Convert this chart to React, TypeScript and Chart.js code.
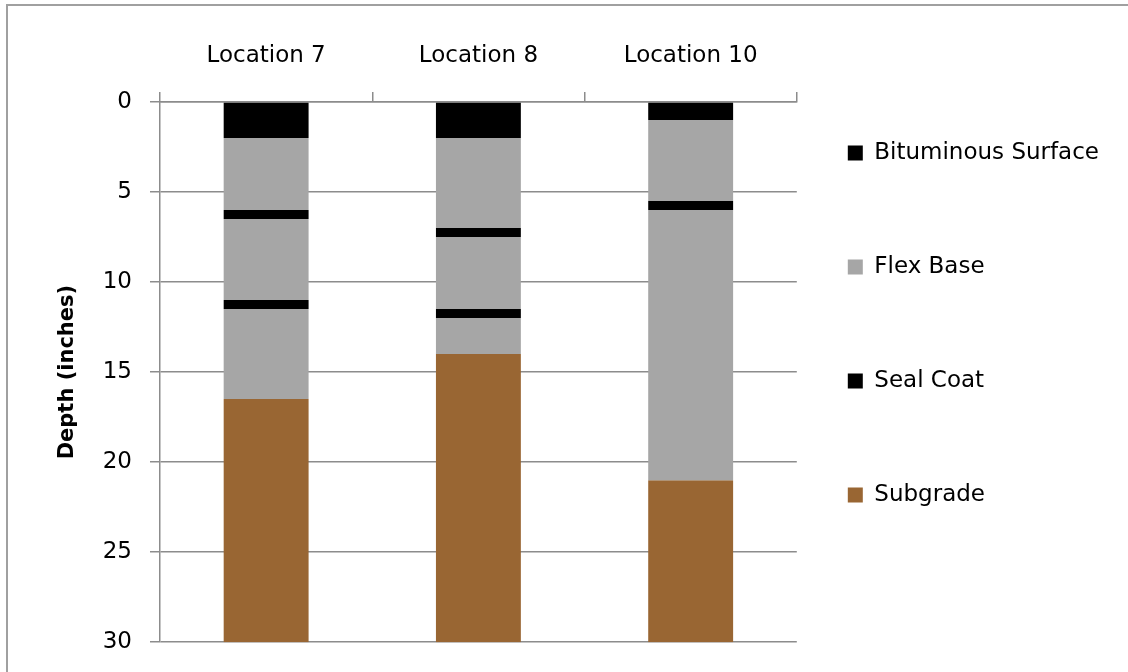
import React, { useEffect, useRef } from 'react';
import { Chart, registerables } from 'chart.js';

Chart.register(...registerables);

// ---- data ----
const categories = ['Location 7', 'Location 8', 'Location 10'];
const layerNames = ['Bituminous Surface', 'Flex Base', 'Seal Coat', 'Flex Base', 'Seal Coat', 'Flex Base', 'Subgrade'];
const bituminousSurface = [2, 2, 1];
const flexBaseUpper = [4, 5, 4.5];
const sealCoatUpper = [0.5, 0.5, 0.5];
const flexBaseMiddle = [4.5, 4, 15];
const sealCoatLower = [0.5, 0.5, 0];
const flexBaseLower = [5, 2, 0];
const subgrade = [13.5, 16, 9];
const depthTicks = [0, 5, 10, 15, 20, 25, 30];
const legendLayers = [0, 1, 2, 6];

// ---- styles ----
const BLACK = '#000000';
const GRAY = '#a6a6a6';
const BROWN = '#996633';
const GRID = '#8c8c8c';
const FONT = 'DejaVu Sans';
const layerColors = [BLACK, GRAY, BLACK, GRAY, BLACK, GRAY, BROWN];

export default function App() {
  const canvasRef = useRef<HTMLCanvasElement | null>(null);

  useEffect(() => {
    const canvas = canvasRef.current;
    if (!canvas) return;
    const layerValues = [
      bituminousSurface,
      flexBaseUpper,
      sealCoatUpper,
      flexBaseMiddle,
      sealCoatLower,
      flexBaseLower,
      subgrade,
    ];
    const chart = new Chart(canvas, {
      type: 'bar',
      data: {
        labels: categories,
        datasets: layerValues.map((vals, i) => ({
          label: layerNames[i],
          data: vals,
          backgroundColor: layerColors[i],
          borderWidth: 0,
          barPercentage: 0.4,
          categoryPercentage: 1.0,
        })),
      },
      options: {
        animation: false,
        responsive: true,
        maintainAspectRatio: false,
        layout: { padding: { top: 36, bottom: 28, left: 0, right: 19 } },
        plugins: {
          legend: {
            position: 'right',
            maxWidth: 420,
            labels: {
              boxWidth: 15,
              boxHeight: 15,
              padding: 51,
              color: '#000000',
              font: { family: FONT, size: 23, lineHeight: 63 / 23 },
              filter: (item: any) => legendLayers.includes(item.datasetIndex),
              generateLabels: (c: any) =>
                (Chart.defaults.plugins.legend.labels as any)
                  .generateLabels(c)
                  .map((it: any) => ({ ...it, lineWidth: 0, text: [it.text] })),
            },
          },
          tooltip: { enabled: false },
        },
        scales: {
          x: {
            position: 'top',
            stacked: true,
            grid: {
              display: true,
              drawOnChartArea: false,
              drawTicks: true,
              tickLength: 10,
              color: GRID,
              lineWidth: 1.5,
              offset: true,
            },
            border: { display: true, color: GRID, width: 1.5 },
            ticks: { color: '#000000', font: { family: FONT, size: 23 }, padding: 22 },
            afterFit: (s: any) => {
              s.height = 60;
            },
          },
          y: {
            stacked: true,
            reverse: true,
            min: 0,
            max: 30,
            afterBuildTicks: (s: any) => {
              s.ticks = depthTicks.map((v) => ({ value: v }));
            },
            grid: { color: GRID, lineWidth: 1.5, tickLength: 10 },
            border: { display: true, color: GRID, width: 1.5 },
            ticks: { color: '#000000', font: { family: FONT, size: 23 }, padding: 18 },
            title: {
              display: true,
              text: 'Depth (inches)',
              color: '#000000',
              font: { family: FONT, size: 21, weight: 'bold' },
              padding: { top: 47, bottom: 0 },
            },
            afterFit: (s: any) => {
              s.width = 152;
            },
          },
        },
      } as any,
    });
    return () => chart.destroy();
  }, []);

  return (
    <div
      style={{
        position: 'fixed',
        left: 6,
        top: 4,
        width: 1140,
        height: 690,
        border: '2px solid #a0a0a0',
        background: '#ffffff',
      }}
    >
      <div style={{ position: 'relative', width: 1120, height: 668 }}>
        <canvas ref={canvasRef} />
      </div>
    </div>
  );
}
